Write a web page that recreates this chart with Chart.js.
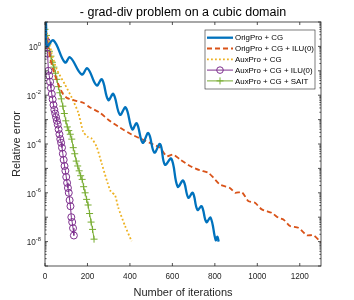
<!DOCTYPE html>
<html>
<head>
<meta charset="utf-8">
<script src="https://cdn.jsdelivr.net/npm/chart.js@4.4.1/dist/chart.umd.min.js"></script>
<style>
  html, body { margin: 0; padding: 0; background: #fff; }
  #wrap { width: 354px; height: 300px; }
</style>
</head>
<body>
<div id="wrap"><canvas id="errChart" width="354" height="300"></canvas></div>
<script>
// ---- data (iterations, log10 of relative error) ----
const chartTitle = '- grad-div problem on a cubic domain';
const xTitle = 'Number of iterations';
const yTitle = 'Relative error';
const xTicks = [0, 200, 400, 600, 800, 1000, 1200];
const yTickExps = [0, -2, -4, -6, -8];
const seriesNames = ['OrigPro + CG', 'OrigPro + CG + ILU(0)', 'AuxPro + CG', 'AuxPro + CG + ILU(0)', 'AuxPro + CG + SAIT'];

const origIter = [0, 5, 9, 40, 94, 118, 173, 200, 243, 268, 298, 322, 353, 380, 411, 432, 460, 487, 515, 542, 565, 595, 625, 651, 675, 696, 718, 738, 760, 780, 804, 812, 818];
const origExp  = [1.5, 0.9, 0.0, 0.25, -0.66, -0.45, -1.15, -0.9, -1.6, -1.35, -2.2, -1.95, -2.8, -2.5, -3.4, -3.15, -3.95, -3.55, -4.35, -4.0, -4.85, -4.6, -5.75, -5.5, -6.2, -6.0, -6.7, -6.55, -7.2, -7.02, -7.94, -7.8, -8.0];

const iluIter = [0, 10, 25, 40, 63, 86, 105, 150, 180, 212, 259, 306, 353, 408, 463, 510, 542, 573, 604, 636, 683, 730, 769, 793, 824, 871, 895, 927, 958, 989, 1021, 1068, 1099, 1123, 1154, 1193, 1233, 1264, 1300];
const iluExp  = [0.4, 0.2, -0.5, -1.0, -1.56, -1.97, -2.12, -2.24, -2.31, -2.5, -2.72, -3.06, -3.33, -3.61, -3.83, -4.02, -4.15, -4.5, -4.43, -4.63, -4.9, -5.08, -5.18, -5.38, -5.66, -5.8, -6.0, -5.97, -6.34, -6.41, -6.68, -6.82, -7.02, -7.09, -7.36, -7.43, -7.74, -7.74, -8.02];

const auxIter = [0, 8, 31, 55, 94, 126, 157, 180, 200, 220, 243, 267, 295, 310, 330, 345, 377, 408];
const auxExp  = [0.7, 0.56, -0.26, -0.94, -1.56, -2.1, -2.72, -3.5, -3.7, -3.78, -4.1, -4.8, -5.6, -5.95, -6.1, -6.6, -7.36, -7.98];

const auxIluIter = [0, 4, 8, 12, 16, 20, 24, 28, 32, 36, 40, 44, 48, 52, 56, 60, 64, 68, 72, 76, 80, 84, 88, 92, 96, 100, 104, 108, 112, 116, 120, 124, 128, 132, 136];
const auxIluExp  = [0.3, 0.05, 0.2, -0.3, -1.0, -1.2, -1.45, -1.7, -1.95, -2.17, -2.4, -2.6, -2.75, -2.9, -3.05, -3.2, -3.4, -3.6, -3.8, -3.95, -4.15, -4.4, -4.65, -4.9, -5.1, -5.35, -5.59, -5.8, -6.0, -6.3, -6.55, -7.0, -7.2, -7.45, -7.75];

const saitIter = [0, 7, 14, 21, 28, 35, 42, 49, 56, 63, 70, 77, 84, 91, 98, 105, 112, 119, 126, 133, 140, 147, 154, 161, 168, 175, 182, 189, 196, 203, 210, 217, 224, 231];
const saitExp  = [0.7, 0.45, 0.1, -0.2, -0.4, -0.65, -0.85, -1.1, -1.35, -1.65, -1.9, -2.15, -2.45, -2.75, -3.05, -3.3, -3.45, -3.6, -3.8, -4.15, -4.4, -4.7, -4.9, -5.1, -5.3, -5.45, -5.75, -6.0, -6.27, -6.5, -6.85, -7.2, -7.5, -7.9];

const colors = ['#0072BD', '#D95319', '#EDB120', '#7E2F8E', '#77AC30'];

function pts(iters, exps) {
    return iters.map((it, i) => ({x: it, y: Math.pow(10, exps[i])}));
}

const FONT = '"Liberation Sans", Arial, Helvetica, sans-serif';
const INK = '#262626';

// axes box, ticks, labels, title, legend (MATLAB look)
const matlabFrame = {
    id: 'matlabFrame',
    afterDraw(chart) {
        const {ctx, chartArea: a, scales} = chart;
        const xs = scales.x, ys = scales.y;
        ctx.save();
        ctx.strokeStyle = INK;
        ctx.lineWidth = 0.8;
        ctx.strokeRect(a.left, a.top, a.right - a.left, a.bottom - a.top);

        ctx.beginPath();
        xTicks.forEach(v => {
            const px = xs.getPixelForValue(v);
            ctx.moveTo(px, a.bottom); ctx.lineTo(px, a.bottom - 3);
            ctx.moveTo(px, a.top); ctx.lineTo(px, a.top + 3);
        });
        for (let e = -9; e <= 1; e++) {
            const py = ys.getPixelForValue(Math.pow(10, e));
            ctx.moveTo(a.left, py); ctx.lineTo(a.left + 3, py);
            ctx.moveTo(a.right, py); ctx.lineTo(a.right - 3, py);
            if (e < 1) {
                for (let m = 2; m < 10; m++) {
                    const q = ys.getPixelForValue(m * Math.pow(10, e));
                    ctx.moveTo(a.left, q); ctx.lineTo(a.left + 1.6, q);
                    ctx.moveTo(a.right, q); ctx.lineTo(a.right - 1.6, q);
                }
            }
        }
        ctx.stroke();

        // tick labels
        ctx.fillStyle = INK;
        ctx.font = '8.2px ' + FONT;
        ctx.textAlign = 'center';
        ctx.textBaseline = 'middle';
        xTicks.forEach(v => ctx.fillText(String(v), xs.getPixelForValue(v), a.bottom + 11));
        yTickExps.forEach(e => {
            const py = ys.getPixelForValue(Math.pow(10, e));
            const ex = String(e);
            ctx.font = '5.8px ' + FONT;
            const ew = ctx.measureText(ex).width;
            ctx.textAlign = 'left';
            ctx.fillText(ex, 41 - ew, py - 2.5);
            ctx.font = '8.2px ' + FONT;
            ctx.textAlign = 'right';
            ctx.fillText('10', 41 - ew, py + 1.5);
        });

        // titles
        ctx.fillStyle = '#000';
        ctx.textAlign = 'center';
        ctx.font = '12.5px ' + FONT;
        ctx.fillText(chartTitle, 183, 12.5);
        ctx.fillStyle = INK;
        ctx.font = '11px ' + FONT;
        ctx.fillText(xTitle, 183, 292.5);
        ctx.save();
        ctx.translate(17, 144);
        ctx.rotate(-Math.PI / 2);
        ctx.fillText(yTitle, 0, 0);
        ctx.restore();

        // legend
        const lx = 205, ly = 30, lw = 110, lh = 59;
        ctx.fillStyle = '#fff';
        ctx.fillRect(lx, ly, lw, lh);
        ctx.lineWidth = 0.6;
        ctx.strokeStyle = INK;
        ctx.strokeRect(lx, ly, lw, lh);
        ctx.font = '7.9px ' + FONT;
        ctx.textAlign = 'left';
        chart.data.datasets.forEach((ds, i) => {
            const cy = ly + 7.7 + i * 10.8;
            ctx.save();
            ctx.strokeStyle = ds.borderColor;
            ctx.lineWidth = ds.borderWidth;
            ctx.setLineDash(ds.borderDash || []);
            ctx.beginPath();
            ctx.moveTo(lx + 2, cy); ctx.lineTo(lx + 28, cy);
            ctx.stroke();
            ctx.setLineDash([]);
            ctx.lineWidth = 1;
            if (ds.pointStyle === 'circle') {
                ctx.beginPath();
                ctx.arc(lx + 15, cy, 3.3, 0, Math.PI * 2);
                ctx.stroke();
            } else if (ds.pointStyle === 'cross') {
                ctx.beginPath();
                ctx.moveTo(lx + 15, cy - 3.5); ctx.lineTo(lx + 15, cy + 3.5);
                ctx.moveTo(lx + 11.5, cy); ctx.lineTo(lx + 18.5, cy);
                ctx.stroke();
            }
            ctx.restore();
            ctx.fillStyle = '#000';
            ctx.fillText(seriesNames[i], lx + 30, cy + 0.5);
        });
        ctx.restore();
    }
};

const ctx = document.getElementById('errChart').getContext('2d');
new Chart(ctx, {
    type: 'line',
    data: {
        datasets: [
            {label: seriesNames[0], data: pts(origIter, origExp), borderColor: colors[0], borderWidth: 2.3, pointRadius: 0, tension: 0.4},
            {label: seriesNames[1], data: pts(iluIter, iluExp), borderColor: colors[1], borderWidth: 1.8, borderDash: [5, 3], pointRadius: 0, tension: 0.2},
            {label: seriesNames[2], data: pts(auxIter, auxExp), borderColor: colors[2], borderWidth: 1.8, borderDash: [1.8, 2.2], pointRadius: 0, tension: 0.2},
            {label: seriesNames[3], data: pts(auxIluIter, auxIluExp), borderColor: colors[3], borderWidth: 1, pointStyle: 'circle', pointRadius: 3.5, pointBorderWidth: 1, pointBackgroundColor: 'rgba(0,0,0,0)', pointBorderColor: colors[3], tension: 0},
            {label: seriesNames[4], data: pts(saitIter, saitExp), borderColor: colors[4], borderWidth: 1, pointStyle: 'cross', pointRadius: 3.5, pointBorderWidth: 1, pointBorderColor: colors[4], tension: 0}
        ]
    },
    options: {
        responsive: false,
        animation: false,
        devicePixelRatio: 1,
        layout: {padding: {left: 45, right: 33, top: 22, bottom: 34}},
        scales: {
            x: {type: 'linear', min: 0, max: 1300, display: false},
            y: {type: 'logarithmic', min: 1e-9, max: 10, display: false}
        },
        plugins: {
            legend: {display: false},
            tooltip: {enabled: false}
        }
    },
    plugins: [matlabFrame]
});
</script>
</body>
</html>
